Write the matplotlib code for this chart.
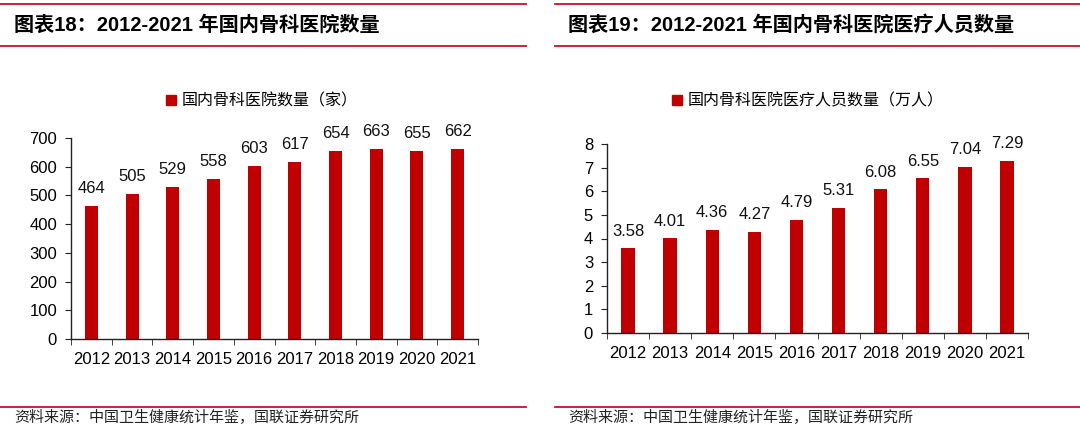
import matplotlib
matplotlib.use("Agg")
import matplotlib.pyplot as plt
from matplotlib.lines import Line2D
from matplotlib.patches import Patch

plt.rcParams['font.family'] = ['Liberation Sans', 'Noto Sans CJK SC', 'DejaVu Sans']

# ---------------- data ----------------
years = ["2012", "2013", "2014", "2015", "2016", "2017", "2018", "2019", "2020", "2021"]
hospitals = [464, 505, 529, 558, 603, 617, 654, 663, 655, 662]
staff = [3.58, 4.01, 4.36, 4.27, 4.79, 5.31, 6.08, 6.55, 7.04, 7.29]

title_left = "图表18：2012-2021 年国内骨科医院数量"
title_right = "图表19：2012-2021 年国内骨科医院医疗人员数量"
legend_left = "国内骨科医院数量（家）"
legend_right = "国内骨科医院医疗人员数量（万人）"
source = "资料来源：中国卫生健康统计年鉴，国联证券研究所"

bar_color = "#C00000"
line_color = "#C8102E"
W, H = 1080, 428

fig = plt.figure(figsize=(W / 100, H / 100), dpi=100)


def px(x0, y_top, x1, y_bot):
    # pixel box -> figure fraction rect
    return [x0 / W, 1 - y_bot / H, (x1 - x0) / W, (y_bot - y_top) / H]


def hline(x0, x1, y):
    fig.add_artist(Line2D([x0 / W, x1 / W], [1 - y / H, 1 - y / H],
                          color=line_color, lw=1.3))


def panel(rect, values, ymax, ystep, fmt, title, leg, x0, x1, tx, legx):
    ax = fig.add_axes(rect)
    xs = range(len(years))
    ax.bar(xs, values, width=0.32, color=bar_color, label=leg)
    for x, v in zip(xs, values):
        ax.annotate(fmt.format(v), (x, v), xytext=(0, 7), textcoords="offset points",
                    ha="center", va="bottom", fontsize=12, color="#111111")
    ax.set_xlim(-0.5, len(years) - 0.5)
    ax.set_ylim(0, ymax)
    ax.set_yticks([i * ystep for i in range(int(round(ymax / ystep)) + 1)])
    ax.set_xticks(xs)
    ax.set_xticklabels(years, fontsize=12)
    ax.set_xticks([i - 0.5 for i in range(len(years) + 1)], minor=True)
    ax.tick_params(axis="x", which="major", length=0, pad=9)
    ax.tick_params(axis="x", which="minor", length=4, direction="out", color="#222222")
    ax.tick_params(axis="y", labelsize=12, length=4, direction="out", color="#222222",
                   pad=6)
    for s in ("top", "right"):
        ax.spines[s].set_visible(False)
    for s in ("left", "bottom"):
        ax.spines[s].set_color("#222222")
        ax.spines[s].set_linewidth(1.0)
    ax.legend(handles=[Patch(color=bar_color, label=leg)], loc="center",
              bbox_to_anchor=(legx / W, 1 - 101 / H), bbox_transform=fig.transFigure,
              frameon=False, handlelength=0.6, handleheight=0.6, handletextpad=0.4,
              prop={"family": ["Noto Sans CJK SC"], "size": 11.5, "weight": "light"})

    hline(x0, x1, 4)
    hline(x0, x1, 46)
    hline(x0, x1, 407)
    fig.text(tx / W, 1 - 25 / H, title, fontsize=14.5, fontweight="bold",
             va="center", ha="left", color="#000000")
    fig.text(tx / W, 1 - 418 / H, source, fontsize=10.8, va="center", ha="left",
             color="#222222", family=["Noto Sans CJK SC"], fontweight="light")
    return ax


panel(px(71, 138, 478, 339), hospitals, 700, 100, "{:d}", title_left, legend_left,
      0, 526, 14, 262)
panel(px(607, 144, 1028, 333), staff, 8, 1, "{:.2f}", title_right, legend_right,
      555, 1080, 568, 808)

fig.savefig("out.png", dpi=100, facecolor="white")
